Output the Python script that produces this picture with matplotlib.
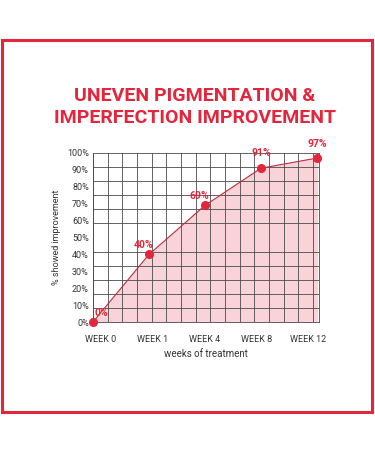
import matplotlib
matplotlib.use("Agg")
import matplotlib.pyplot as plt
from matplotlib.ticker import MultipleLocator
from matplotlib.patches import Rectangle
import numpy as np

weeks = ["WEEK 0", "WEEK 1", "WEEK 4", "WEEK 8", "WEEK 12"]
improvement = [0, 40, 69, 91, 97]
labels = ["0%", "40%", "69%", "91%", "97%"]
yticks = [0, 10, 20, 30, 40, 50, 60, 70, 80, 90, 100]

RED = "#e3263b"
FONT = ["Roboto", "DejaVu Sans"]
plt.rcParams["font.family"] = FONT

fig = plt.figure(figsize=(3.75, 4.5), dpi=100)
fig.patch.set_facecolor("white")

# red frame
fig.patches.append(Rectangle((1.5 / 375, 1 - 411.5 / 450), 370 / 375, 372 / 450,
                             transform=fig.transFigure, fill=False,
                             edgecolor=RED, linewidth=2.2))

fig.text(195 / 375, 1 - 96 / 450, "UNEVEN PIGMENTATION &", ha="center", va="center",
         color=RED, fontsize=14, fontweight="bold")
fig.text(195 / 375, 1 - 118 / 450, "IMPERFECTION IMPROVEMENT", ha="center", va="center",
         color=RED, fontsize=14, fontweight="bold")

ax = fig.add_axes([93 / 375, 1 - 322 / 450, 226 / 375, 169 / 450])
x = np.arange(len(weeks))
ax.set_xlim(0, 4.036)
ax.set_ylim(0, 100)

ax.fill_between(x, improvement, 0, color="#f9d3d7", zorder=0)
ax.xaxis.set_minor_locator(MultipleLocator(0.262))
ax.yaxis.set_minor_locator(MultipleLocator(100 / 12))
ax.grid(which="minor", color="#4a4a4a", linewidth=0.6, zorder=1)
ax.grid(which="major", visible=False)
for s in ax.spines.values():
    s.set_color("#4a4a4a")
    s.set_linewidth(0.6)

ax.plot(x, improvement, color="#b8303e", linewidth=0.8, zorder=3, clip_on=False)
ax.plot(x, improvement, "o", color=RED, markersize=5.5, zorder=4, clip_on=False)

offsets = [(6, 6.5), (-4, 6.5), (-4, 6.5), (0, 11), (0, 10)]
for xi, yi, lab, off in zip(x, improvement, labels, offsets):
    ax.annotate(lab, (xi, yi), xytext=off, textcoords="offset points",
                ha="center", va="center", color=RED, fontsize=7.5,
                fontweight="bold", annotation_clip=False, zorder=5)

ax.set_yticks(yticks)
ax.set_yticklabels([f"{v}%" for v in yticks])
ax.set_xticks(x * 0.925 + 0.14)
ax.set_xticklabels(weeks)
ax.tick_params(axis="both", which="both", length=0, labelsize=6.5, colors="#333333")
ax.tick_params(axis="y", pad=3)
ax.tick_params(axis="x", pad=9)

ax.set_xlabel("weeks of treatment", fontsize=7, color="#333333", labelpad=4)
ax.set_ylabel("% showed improvement", fontsize=6.5, color="#333333", labelpad=4)

fig.savefig("out.png", dpi=100, facecolor="white")
